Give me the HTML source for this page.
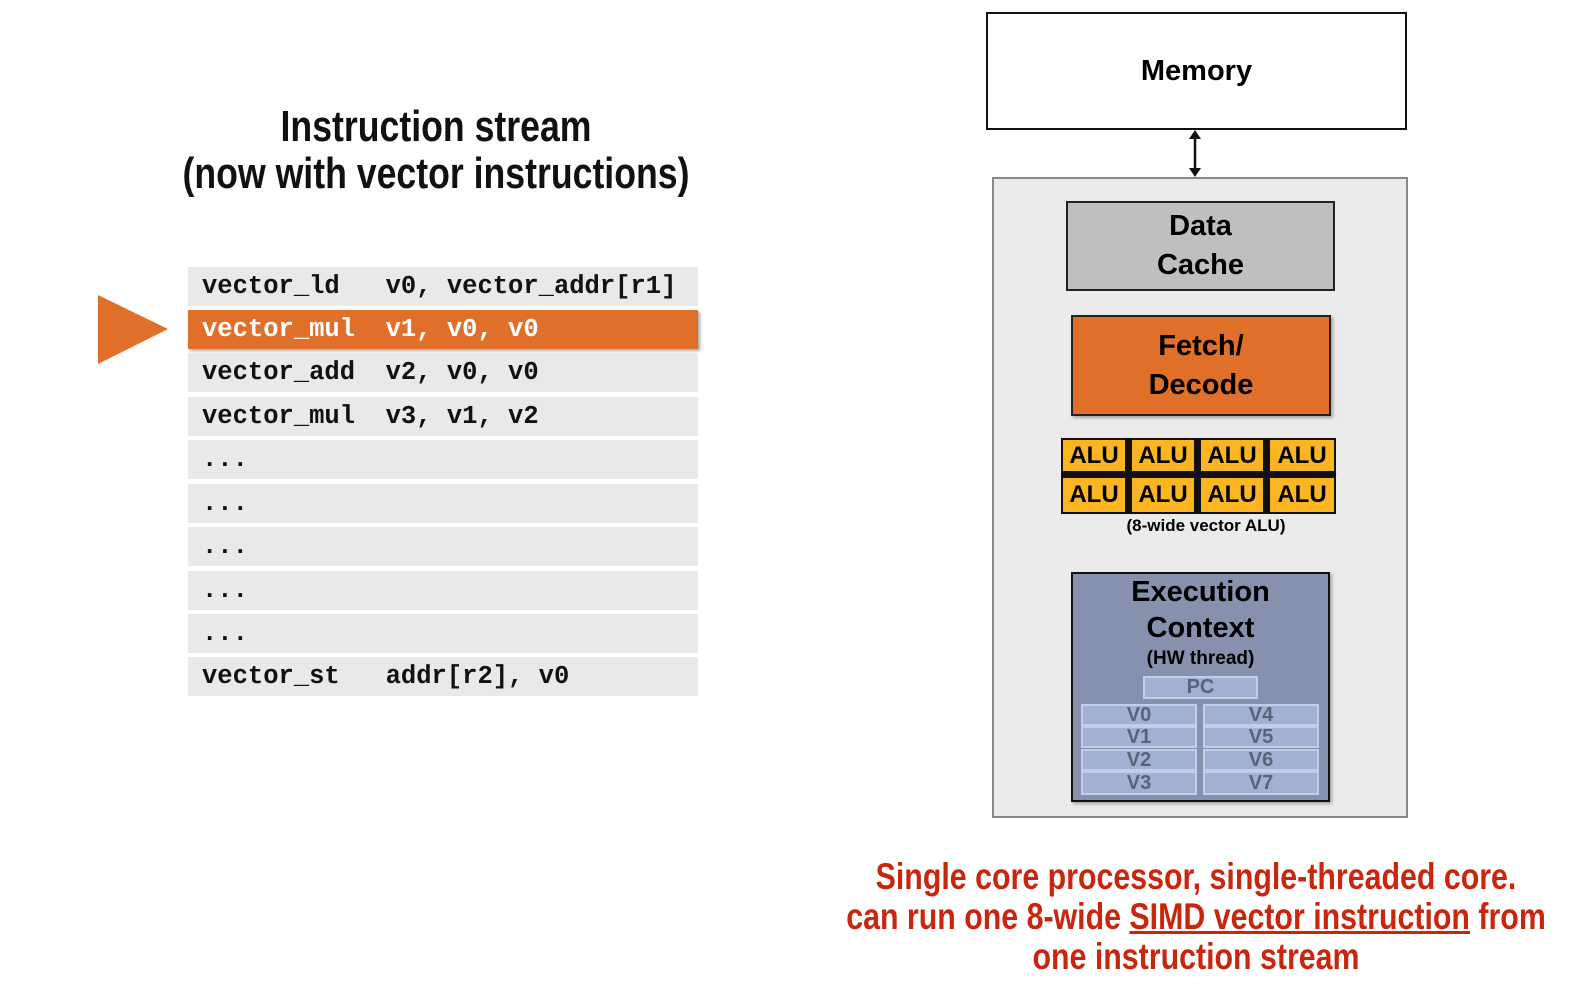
<!DOCTYPE html>
<html><head><meta charset="utf-8"><style>
*{margin:0;padding:0;box-sizing:border-box}
body{width:1596px;height:1004px;background:#fff;position:relative;overflow:hidden;font-family:"Liberation Sans",sans-serif}
.a{position:absolute}
.row{position:absolute;left:188px;width:510px;height:39px;background:#e9e9e9;font-family:"Liberation Mono",monospace;font-weight:bold;font-size:25.5px;line-height:39px;white-space:pre;padding-left:14px;color:#111}
.c{display:flex;align-items:center;justify-content:center;text-align:center;font-weight:bold}
.cl{position:absolute;white-space:nowrap;font-weight:bold;text-align:center;width:1000px}
.alu{position:absolute;width:66px;height:35px;background:#fbb520;border:2px solid #111;font-weight:bold;font-size:24px;display:flex;align-items:center;justify-content:center}
.reg{position:absolute;height:22px;background:#a2b0d2;border:2px solid #c3cdea;color:#5a6378;font-weight:bold;font-size:20px;display:flex;align-items:center;justify-content:center}
</style></head><body>
<div class="cl" style="left:-64px;top:103px;font-size:44px;line-height:47px;color:#111;transform:scaleX(0.81)">Instruction stream<br>(now with vector instructions)</div>

<svg class="a" style="left:95px;top:292px" width="80" height="80"><polygon points="3,3 73,37 3,72" fill="#e06f2a"/></svg>
<div class="row" style="top:267px">vector_ld   v0, vector_addr[r1]</div>
<div class="row" style="top:310px;background:#e06f2a;color:#fff;box-shadow:2px 2px 3px rgba(0,0,0,.35)">vector_mul  v1, v0, v0</div>
<div class="row" style="top:353px">vector_add  v2, v0, v0</div>
<div class="row" style="top:397px">vector_mul  v3, v1, v2</div>
<div class="row" style="top:440px">...</div>
<div class="row" style="top:484px">...</div>
<div class="row" style="top:527px">...</div>
<div class="row" style="top:571px">...</div>
<div class="row" style="top:614px">...</div>
<div class="row" style="top:657px">vector_st   addr[r2], v0</div>

<div class="a c" style="left:986px;top:12px;width:421px;height:118px;border:2px solid #111;font-size:29px">Memory</div>
<svg class="a" style="left:1185px;top:129px" width="20" height="50"><line x1="10" y1="6" x2="10" y2="42" stroke="#111" stroke-width="2.5"/><polygon points="4,10 10,1 16,10" fill="#111"/><polygon points="4,39 10,48 16,39" fill="#111"/></svg>
<div class="a" style="left:992px;top:177px;width:416px;height:641px;background:#ebebeb;border:2px solid #888"></div>
<div class="a c" style="left:1066px;top:201px;width:269px;height:90px;background:#bfbfbf;border:2px solid #222;font-size:29px;line-height:39px">Data<br>Cache</div>
<div class="a c" style="left:1071px;top:315px;width:260px;height:101px;background:#e06f2a;border:2px solid #222;font-size:29px;line-height:39px;box-shadow:2px 2px 3px rgba(0,0,0,.3)">Fetch/<br>Decode</div>
<div class="a" style="left:1061px;top:438px;width:275px;height:76px;background:#111"></div>
<div class="alu" style="left:1061px;top:438px">ALU</div><div class="alu" style="left:1130px;top:438px">ALU</div><div class="alu" style="left:1199px;top:438px">ALU</div><div class="alu" style="left:1268px;top:438px;width:68px">ALU</div>
<div class="alu" style="left:1061px;top:476px;height:38px">ALU</div><div class="alu" style="left:1130px;top:476px;height:38px">ALU</div><div class="alu" style="left:1199px;top:476px;height:38px">ALU</div><div class="alu" style="left:1268px;top:476px;width:68px;height:38px">ALU</div>
<div class="a" style="left:1061px;top:516px;width:290px;text-align:center;font-weight:bold;font-size:17px">(8-wide vector ALU)</div>
<div class="a" style="left:1071px;top:572px;width:259px;height:230px;background:#8591ad;border:2px solid #111;box-shadow:2px 2px 3px rgba(0,0,0,.3)"></div>
<div class="a" style="left:1071px;top:574px;width:259px;text-align:center;font-weight:bold;font-size:29px;line-height:36px">Execution<br>Context</div>
<div class="a" style="left:1071px;top:648px;width:259px;text-align:center;font-weight:bold;font-size:19px">(HW thread)</div>
<div class="reg" style="left:1143px;top:676px;width:115px;height:23px">PC</div>
<div class="reg" style="left:1081px;top:704px;width:116px">V0</div><div class="reg" style="left:1081px;top:726px;width:116px">V1</div><div class="reg" style="left:1081px;top:749px;width:116px">V2</div><div class="reg" style="left:1081px;top:771px;width:116px;height:24px">V3</div>
<div class="reg" style="left:1203px;top:704px;width:116px">V4</div><div class="reg" style="left:1203px;top:726px;width:116px">V5</div><div class="reg" style="left:1203px;top:749px;width:116px">V6</div><div class="reg" style="left:1203px;top:771px;width:116px;height:24px">V7</div>

<div class="cl" style="left:696px;top:857px;font-size:37px;line-height:40px;color:#c9260d;transform:scaleX(0.82)">Single core processor, single-threaded core.<br>can run one 8-wide <u>SIMD vector instruction</u> from<br>one instruction stream</div>
</body></html>
